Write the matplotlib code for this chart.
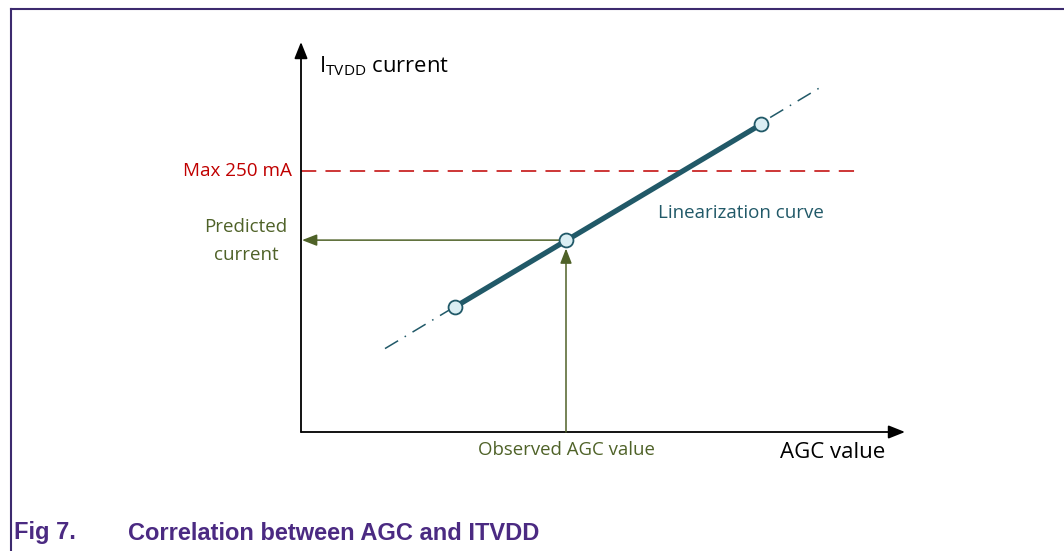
import matplotlib.pyplot as plt

# schematic values (current in mA, AGC in arbitrary units)
agc_points = [154, 265, 460]
current_points = [120, 184, 295]
agc_trend = [84, 522]
current_trend = [80, 332]
max_current = 250
observed_agc = 265
predicted_current = 184

teal = '#215968'
olive = '#4f6228'
red = '#c00000'
purple = '#4b2a82'

plt.rcParams['font.family'] = ['Open Sans', 'DejaVu Sans']

fig = plt.figure(figsize=(10.64, 5.51), dpi=100)

# outer frame (top and left edges)
fig.add_artist(plt.Line2D([11/1064, 1], [1 - 9/551, 1 - 9/551], color='#3c2a6e', lw=1.5))
fig.add_artist(plt.Line2D([11/1064, 11/1064], [1 - 9/551, 0], color='#3c2a6e', lw=1.5))

ax = fig.add_axes([301/1064, 1 - 432/551, 604/1064, 390/551])
ax.set_xlim(0, 604)
ax.set_ylim(0, 374)
ax.axis('off')

# axes arrows
ax.annotate('', xy=(604, 0), xytext=(0, 0),
            arrowprops=dict(arrowstyle='-|>,head_length=1.0,head_width=0.4', color='black', lw=1.3,
                            shrinkA=0, shrinkB=0), annotation_clip=False)
ax.annotate('', xy=(0, 374), xytext=(0, 0),
            arrowprops=dict(arrowstyle='-|>,head_length=1.0,head_width=0.4', color='black', lw=1.3,
                            shrinkA=0, shrinkB=0), annotation_clip=False)

# max line
ax.plot([0, 560], [max_current, max_current], color=red, lw=1.1, dashes=(10, 6))
ax.text(-9, max_current, 'Max 250 mA', color=red, fontsize=13.6, ha='right', va='center')

# trend + linearization
ax.plot(agc_trend, current_trend, color=teal, lw=1.1, dashes=(10, 5, 1, 5))
ax.plot([agc_points[0], agc_points[-1]], [current_points[0], current_points[-1]], color=teal, lw=3.8,
        solid_capstyle='butt')

# observed/predicted arrows
ax.annotate('', xy=(1, predicted_current), xytext=(observed_agc, predicted_current),
            arrowprops=dict(arrowstyle='-|>,head_length=0.9,head_width=0.35', color=olive, lw=1.1,
                            shrinkA=0, shrinkB=0), annotation_clip=False)
ax.annotate('', xy=(observed_agc, predicted_current - 8), xytext=(observed_agc, 0),
            arrowprops=dict(arrowstyle='-|>,head_length=0.9,head_width=0.35', color=olive, lw=1.1,
                            shrinkA=0, shrinkB=0), annotation_clip=False)

ax.plot(agc_points, current_points, 'o', ms=10, mfc='#daeef3', mec=teal, mew=1.3, zorder=5)

ax.text(-55, predicted_current - 1, 'Predicted\ncurrent', color=olive, fontsize=13.5, ha='center',
        va='center', linespacing=1.7)
ax.text(357, 210, 'Linearization curve', color=teal, fontsize=13.5, ha='left', va='center')
ax.text(observed_agc, -17, 'Observed AGC value', color=olive, fontsize=13.4, ha='center', va='center')
ax.text(584, -20, 'AGC value', color='black', fontsize=16, ha='right', va='center')
ax.text(18, 351, r'I$_{\mathregular{TVDD}}$ current', color='black', fontsize=15.8, ha='left',
        va='center')

fig.text(14/1064, 1 - 533/551, 'Fig 7.', color=purple, fontsize=17, fontweight='bold',
         family='Liberation Sans', va='center')
fig.text(128/1064, 1 - 533/551, 'Correlation between AGC and ITVDD', color=purple, fontsize=17,
         fontweight='bold', family='Liberation Sans', va='center')

fig.savefig('out.png', dpi=100)
